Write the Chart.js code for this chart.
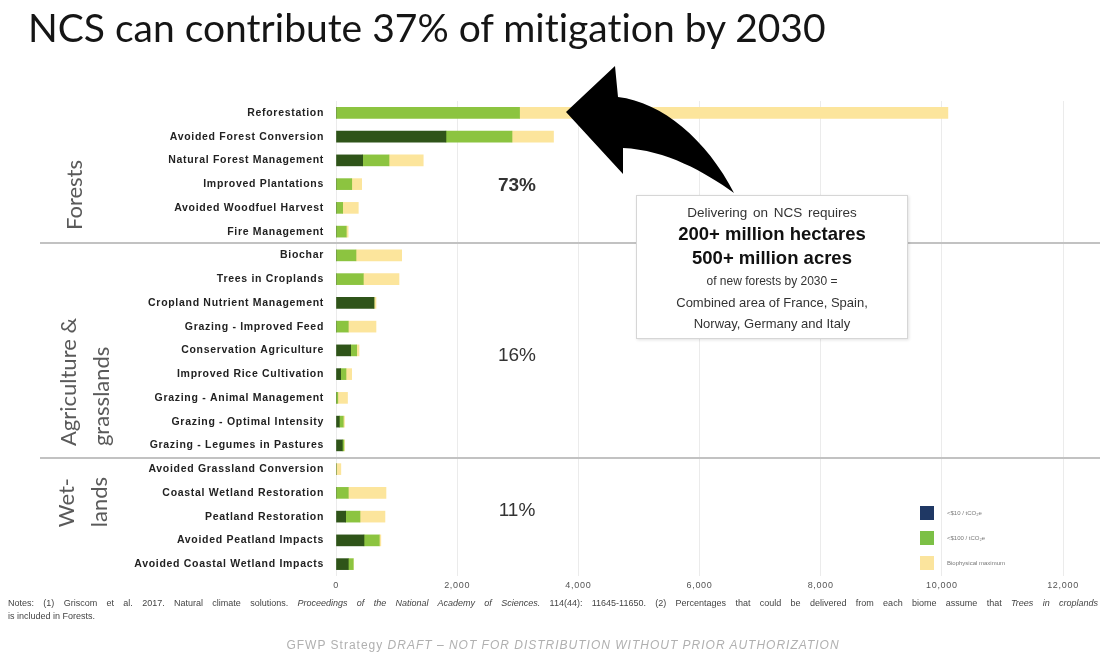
<!DOCTYPE html>
<html>
<head>
<meta charset="utf-8">
<script src="https://cdn.jsdelivr.net/npm/chart.js@4.4.0/dist/chart.umd.min.js"></script>
<style>
  html, body { margin: 0; padding: 0; background: #fff; }
  #wrap { position: relative; width: 1103px; height: 652px; overflow: hidden; font-family: "Liberation Sans", Arial, sans-serif; }
  #chartBox { position: absolute; left: 0; top: 0; width: 1103px; height: 652px; }
  .abs { position: absolute; white-space: nowrap; }
  #title { left: 28px; top: 4px; font-family: Lato, "Open Sans", sans-serif; font-size: 39px; color: #151515; font-variant-ligatures: none; }
  .group { font-family: Lato, "Open Sans", sans-serif; font-size: 22px; color: #5a5a5a; line-height: 33px;
           transform: translate(-50%, -50%) rotate(-90deg); text-align: left; font-variant-ligatures: none; }
  .pct { font-size: 19px; color: #333; transform: translate(-50%, -50%); }
  #callout { left: 636px; top: 195px; width: 270px; height: 142px; background: #fff; border: 1px solid #d6d6d6;
             box-shadow: 1px 1px 3px rgba(0,0,0,0.12); text-align: center; color: #333; }
  #callout div { position: absolute; left: 0; right: 0; transform: translateY(-50%); }
  #legend { left: 920px; top: 500px; font-size: 6px; color: #777; }
  #legend .row { height: 25px; display: flex; align-items: center; }
  #legend .sw { width: 14px; height: 14px; margin-right: 13px; }
  .note { left: 8px; font-size: 9px; color: #444; }
  #note1 { top: 598px; width: 1090px; text-align: justify; text-align-last: justify; }
  #note2 { top: 611px; }
  #footer { left: 563px; top: 645px; transform: translate(-50%, -50%); font-size: 12px; letter-spacing: 1px; color: #b0b0b0; }
</style>
</head>
<body>
<div id="wrap">
  <div id="chartBox"><canvas id="ncsChart"></canvas></div>

  <div id="title" class="abs">NCS can contribute 37% of mitigation by 2030</div>

  <div class="abs group" style="left:73px; top:195px;">Forests</div>
  <div class="abs group" style="left:84px; top:382px;">Agriculture &amp;<br>grasslands</div>
  <div class="abs group" style="left:82px; top:502px;">Wet-<br>lands</div>

  <div class="abs pct" style="left:517px; top:185px; font-weight:bold;">73%</div>
  <div class="abs pct" style="left:517px; top:355px;">16%</div>
  <div class="abs pct" style="left:517px; top:510px;">11%</div>

  <div id="callout" class="abs">
    <div style="top:16px; font-size:13.5px; word-spacing:2px;">Delivering on NCS requires</div>
    <div style="top:38px; font-size:18.5px; font-weight:bold; color:#111;">200+ million hectares</div>
    <div style="top:62px; font-size:18.5px; font-weight:bold; color:#111;">500+ million acres</div>
    <div style="top:85px; font-size:12px;">of new forests by 2030 =</div>
    <div style="top:106px; font-size:13px;">Combined area of France, Spain,</div>
    <div style="top:127px; font-size:13px;">Norway, Germany and Italy</div>
  </div>

  <div id="legend" class="abs"></div>

  <div id="note1" class="abs note">Notes: (1) Griscom et al. 2017. Natural climate solutions. <i>Proceedings of the National Academy of Sciences.</i> 114(44): 11645-11650. (2) Percentages that could be delivered from each biome assume that <i>Trees in croplands</i></div>
  <div id="note2" class="abs note">is included in Forests.</div>

  <div id="footer" class="abs">GFWP Strategy <i>DRAFT – NOT FOR DISTRIBUTION WITHOUT PRIOR AUTHORIZATION</i></div>
</div>

<script>
// pathways, top to bottom
const pathways = [
  'Reforestation', 'Avoided Forest Conversion', 'Natural Forest Management', 'Improved Plantations',
  'Avoided Woodfuel Harvest', 'Fire Management',
  'Biochar', 'Trees in Croplands', 'Cropland Nutrient Management', 'Grazing - Improved Feed',
  'Conservation Agriculture', 'Improved Rice Cultivation', 'Grazing - Animal Management',
  'Grazing - Optimal Intensity', 'Grazing - Legumes in Pastures',
  'Avoided Grassland Conversion', 'Coastal Wetland Restoration', 'Peatland Restoration',
  'Avoided Peatland Impacts', 'Avoided Coastal Wetland Impacts'
];

// cumulative mitigation (TgCO2e/yr) at each cost level
const under10 = [0, 1815, 440, 0, 0, 0, 0, 0, 627, 0, 242, 77, 0, 55, 105, 0, 0, 160, 462, 203];
const under100 = [3030, 2905, 875, 260, 110, 170, 330, 451, 627, 203, 341, 165, 30, 120, 130, 0, 203, 396, 715, 285];
const maxBio = [10100, 3590, 1440, 424, 368, 200, 1084, 1040, 660, 660, 380, 259, 190, 140, 140, 80, 825, 808, 740, 285];

const xTicks = [0, 2000, 4000, 6000, 8000, 10000, 12000];

const seriesNames = ['<$10 / tCO\u2082e', '<$100 / tCO\u2082e', 'Biophysical maximum'];
const barColors = ['#2f5419', '#8cc440', '#fce59c'];
const legendColors = ['#1f3864', '#7cc046', '#fbe49d'];

// stacked segments: each band is the step above the previous cost level
const seg1 = under10;
const seg2 = under100.map((v, i) => v - under10[i]);
const seg3 = maxBio.map((v, i) => v - under100[i]);

const decor = {
  id: 'decor',
  beforeDraw(chart) {
    chart.ctx.letterSpacing = '0.7px';
  },
  beforeDatasetsDraw(chart) {
    const ctx = chart.ctx;
    ctx.save();
    ctx.strokeStyle = '#c2c2c2';
    ctx.lineWidth = 2;
    [243, 458].forEach(y => {
      ctx.beginPath();
      ctx.moveTo(40, y);
      ctx.lineTo(1100, y);
      ctx.stroke();
    });
    ctx.restore();
  },
  afterDatasetsDraw(chart) {
    // curved arrow pointing at the reforestation bar
    const ctx = chart.ctx;
    ctx.save();
    ctx.fillStyle = '#000';
    ctx.beginPath();
    ctx.moveTo(566, 112);
    ctx.lineTo(615, 66);
    ctx.lineTo(618, 97);
    ctx.bezierCurveTo(662, 102, 707, 140, 734, 193);
    ctx.bezierCurveTo(705, 172, 666, 150, 623, 148);
    ctx.lineTo(623, 174);
    ctx.closePath();
    ctx.fill();
    ctx.restore();
  },
  afterDraw(chart) {
    chart.ctx.letterSpacing = '0px';
  }
};

new Chart(document.getElementById('ncsChart').getContext('2d'), {
  type: 'bar',
  data: {
    labels: pathways,
    datasets: [
      { label: seriesNames[0], data: seg1, backgroundColor: barColors[0] },
      { label: seriesNames[1], data: seg2, backgroundColor: barColors[1] },
      { label: seriesNames[2], data: seg3, backgroundColor: barColors[2] }
    ]
  },
  options: {
    indexAxis: 'y',
    responsive: true,
    maintainAspectRatio: false,
    animation: false,
    layout: { padding: { top: 101, bottom: 56, left: 0, right: 40 } },
    datasets: { bar: { barThickness: 11 } },
    plugins: { legend: { display: false }, tooltip: { enabled: false } },
    scales: {
      x: {
        stacked: true,
        min: 0,
        max: 12000,
        afterBuildTicks: s => { s.ticks = xTicks.map(v => ({ value: v })); },
        afterFit: s => { s.height = 20; },
        grid: { color: '#ebebeb', drawTicks: false },
        border: { display: false },
        ticks: { padding: 4, color: '#555', font: { family: '"Liberation Sans", sans-serif', size: 9 } }
      },
      y: {
        stacked: true,
        afterFit: s => { s.width = 336; },
        grid: { display: false },
        border: { display: false },
        ticks: { padding: 4, color: '#222', font: { family: '"Liberation Sans", Arial, sans-serif', size: 10.5, weight: 'bold' } }
      }
    }
  },
  plugins: [decor]
});

const legend = document.getElementById('legend');
seriesNames.forEach((name, i) => {
  const row = document.createElement('div');
  row.className = 'row';
  row.innerHTML = '<span class="sw" style="background:' + legendColors[i] + '"></span><span>' + name + '</span>';
  legend.appendChild(row);
});
</script>
</body>
</html>
